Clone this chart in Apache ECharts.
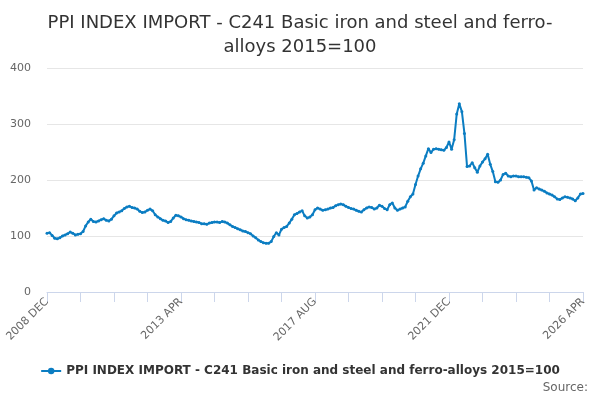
<!DOCTYPE html>
<html>
<head>
<meta charset="utf-8">
<script src="https://cdn.jsdelivr.net/npm/echarts@6/dist/echarts.min.js"></script>
<style>html,body{margin:0;padding:0}#main{width:600px;height:400px}</style>
</head>
<body>
<div id="main"></div>
<script>
var seriesName = 'PPI INDEX IMPORT - C241 Basic iron and steel and ferro-alloys 2015=100';
var monthNames = ['JAN','FEB','MAR','APR','MAY','JUN','JUL','AUG','SEP','OCT','NOV','DEC'];
var categories = [];
for (var i = 0; i < 209; i++) {
    var m = 11 + i;
    categories.push((2008 + Math.floor(m / 12)) + ' ' + monthNames[m % 12]);
}
var values = [
    105,106,101,96,95,97,100,102,104,107,105,102,
    103,104,108,118,125,130,126,125,127,129,131,128,127,
    130,136,141,143,145,149,152,153,151,150,148,144,
    142,143,146,148,145,138,134,131,128,127,124,126,
    132,137,136,134,131,129,128,127,126,125,124,122,
    122,121,123,124,125,125,124,126,125,123,120,117,
    115,113,111,109,108,106,104,100,97,93,90,88,
    87,87,90,99,106,102,112,115,117,123,130,138,
    140,143,145,136,132,134,138,147,150,148,146,147,
    148,150,151,154,156,157,156,153,151,149,148,146,
    144,143,147,150,152,151,148,150,155,153,149,147,
    156,159,150,146,148,150,152,162,170,175,192,207,
    220,230,243,256,249,255,256,255,254,253,258,268,
    255,272,318,336,322,283,224,225,231,222,214,225,
    232,238,246,228,215,197,196,200,210,212,207,206,
    207,207,206,206,206,205,204,198,182,186,184,182,
    180,177,175,173,170,166,165,168,170,169,168,166,163,168,175,176
];
var yTicks = [0, 100, 200, 300, 400];

var myChart = echarts.init(document.getElementById('main'));
var option = {
    title: {
        text: 'PPI INDEX IMPORT - C241 Basic iron and steel and ferro-\nalloys 2015=100',
        left: 'center',
        top: 6,
        textStyle: {fontFamily: 'DejaVu Sans', fontSize: 18, fontWeight: 'normal', color: '#333', lineHeight: 24}
    },
    graphic: [{
        type: 'text', right: 12, bottom: 6,
        style: {text: 'Source:', fontFamily: 'DejaVu Sans', fontSize: 12, fill: '#666'}
    }],
    legend: {
        bottom: 18,
        left: 'center',
        itemWidth: 20,
        itemHeight: 8,
        textStyle: {fontFamily: 'DejaVu Sans', fontSize: 12, fontWeight: 'bold', color: '#333'},
        data: [seriesName]
    },
    grid: {left: 47, right: 17, top: 68, bottom: 108},
    xAxis: {
        type: 'category',
        boundaryGap: false,
        data: categories,
        axisLine: {lineStyle: {color: '#ccd6eb'}},
        axisTick: {interval: 12, length: 10, lineStyle: {color: '#ccd6eb'}},
        axisLabel: {interval: 51, rotate: 45, color: '#666', fontFamily: 'DejaVu Sans', fontSize: 11}
    },
    yAxis: {
        type: 'value',
        min: yTicks[0],
        max: yTicks[yTicks.length - 1],
        interval: 100,
        axisLabel: {color: '#666', fontFamily: 'DejaVu Sans', fontSize: 11, margin: 16},
        splitLine: {lineStyle: {color: '#e6e6e6'}}
    },
    series: [{
        name: seriesName,
        type: 'line',
        data: values,
        symbol: 'circle',
        symbolSize: 3,
        showSymbol: true,
        showAllSymbol: true,
        color: '#0b7dc2',
        lineStyle: {width: 2}
    }]
};
myChart.setOption(option);
</script>
</body>
</html>
